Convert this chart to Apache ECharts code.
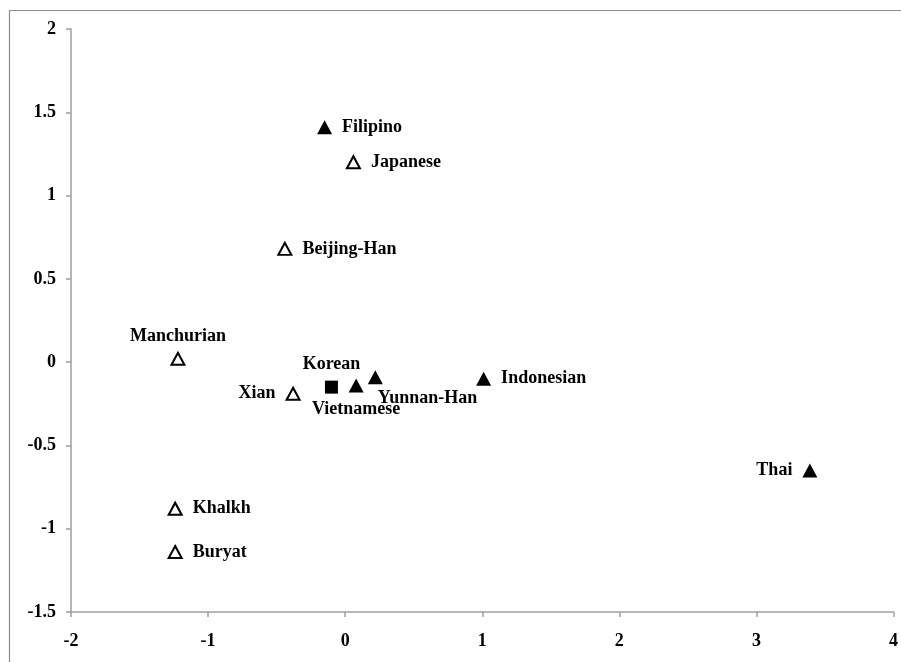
<!DOCTYPE html>
<html>
<head>
<meta charset="utf-8">
<script src="https://cdn.jsdelivr.net/npm/echarts@6/dist/echarts.min.js"></script>
<style>html,body{margin:0;padding:0;background:#fff}#c{width:901px;height:662px}</style>
</head>
<body>
<div id="c"></div>
<script>
// Open triangles
var openNames = ['Japanese', 'Beijing-Han', 'Manchurian', 'Xian', 'Khalkh', 'Buryat'];
var openX = [0.06, -0.44, -1.22, -0.38, -1.24, -1.24];
var openY = [1.20, 0.68, 0.02, -0.19, -0.88, -1.14];
var openPos = ['right', 'right', 'top', 'left', 'right', 'right'];

// Filled triangles
var filledNames = ['Filipino', 'Vietnamese', 'Yunnan-Han', 'Indonesian', 'Thai'];
var filledX = [-0.15, 0.08, 0.22, 1.01, 3.39];
var filledY = [1.41, -0.14, -0.09, -0.10, -0.65];
var filledPos = ['right', 'bottom', 'yunnan', 'right', 'left'];

// Filled square
var squareNames = ['Korean'];
var squareX = [-0.10];
var squareY = [-0.15];
var squarePos = ['top'];

var xTicks = [-2, -1, 0, 1, 2, 3, 4];
var yTicks = [-1.5, -1, -0.5, 0, 0.5, 1, 1.5, 2];

var labelFont = {fontFamily: 'Liberation Serif', fontWeight: 'bold', fontSize: 18, color: '#000'};

function build(names, xs, ys, pos) {
  return names.map(function (n, i) {
    var lab = Object.assign({show: true, formatter: n, distance: 10}, labelFont);
    if (pos[i] === 'yunnan') {
      lab.position = 'right';
      lab.offset = [-15, 21];
    } else {
      lab.position = pos[i];
    }
    if (pos[i] === 'top') lab.distance = 7;
    if (pos[i] === 'bottom') lab.distance = 8;
    return {name: n, value: [xs[i], ys[i]], label: lab};
  });
}

var chart = echarts.init(document.getElementById('c'), null, {renderer: 'canvas'});
var axisLab = {fontFamily: 'Liberation Serif', fontWeight: 'bold', fontSize: 18, color: '#000'};
chart.setOption({
  animation: false,
  backgroundColor: '#fff',
  graphic: [{
    type: 'rect', z: -1,
    shape: {x: 9.5, y: 10.5, width: 900, height: 660},
    style: {fill: 'none', stroke: '#8c8c8c', lineWidth: 1.2}
  }],
  grid: {left: 71, right: 7, top: 29, bottom: 50},
  xAxis: {
    type: 'value', min: xTicks[0], max: xTicks[xTicks.length - 1], interval: 1,
    axisLine: {onZero: false, lineStyle: {color: '#9e9e9e', width: 1.5}},
    axisTick: {show: true, length: 5, lineStyle: {color: '#9e9e9e', width: 1.5}},
    splitLine: {show: false},
    axisLabel: Object.assign({margin: 20}, axisLab)
  },
  yAxis: {
    type: 'value', min: yTicks[0], max: yTicks[yTicks.length - 1], interval: 0.5,
    axisLine: {show: true, onZero: false, lineStyle: {color: '#9e9e9e', width: 1.5}},
    axisTick: {show: true, length: 5, lineStyle: {color: '#9e9e9e', width: 1.5}},
    splitLine: {show: false},
    axisLabel: Object.assign({margin: 15}, axisLab)
  },
  series: [
    {
      type: 'scatter', symbol: 'triangle', symbolSize: [13, 12],
      itemStyle: {color: '#fff', borderColor: '#000', borderWidth: 2, opacity: 1},
      data: build(openNames, openX, openY, openPos)
    },
    {
      type: 'scatter', symbol: 'triangle', symbolSize: [15, 14],
      itemStyle: {color: '#000', opacity: 1},
      data: build(filledNames, filledX, filledY, filledPos)
    },
    {
      type: 'scatter', symbol: 'rect', symbolSize: 13,
      itemStyle: {color: '#000', opacity: 1},
      data: build(squareNames, squareX, squareY, squarePos)
    }
  ]
});
</script>
</body>
</html>
